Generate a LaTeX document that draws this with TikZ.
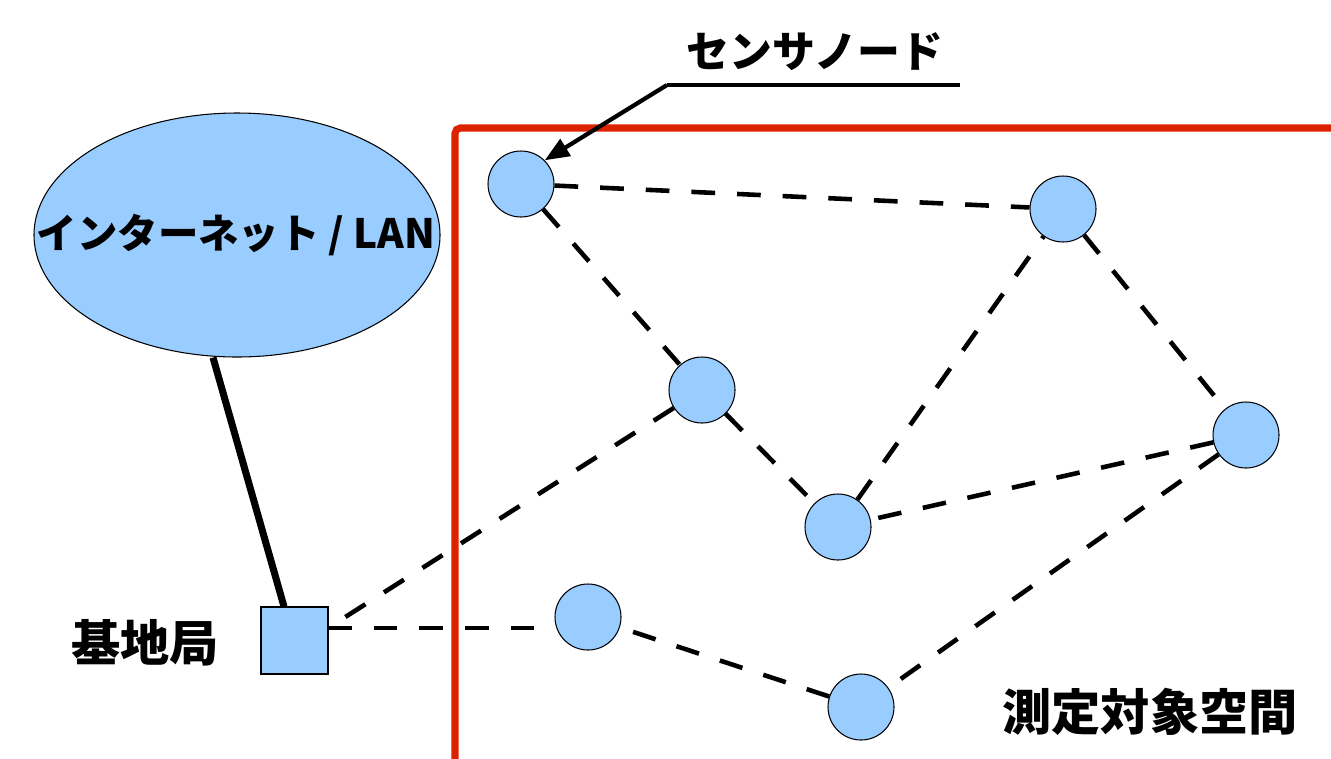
\documentclass[tikz,border=0pt]{standalone}
\usepackage{fontspec}
\setmainfont{Noto Sans CJK JP}
\usetikzlibrary{arrows.meta,shapes.geometric}
\definecolor{nodeblue}{HTML}{99CCFF}
\definecolor{framered}{HTML}{DD2200}
\tikzset{
  sensor/.style={circle,draw=black,line width=0.6pt,fill=nodeblue,minimum size=66*0.02cm,inner sep=0pt},
  link/.style={line width=2.6pt,dash pattern=on 13.5pt off 12.5pt},
  lbl/.style={font=\bfseries,text=black,inner sep=0pt}
}
\begin{document}
\begin{tikzpicture}[x=0.02cm,y=-0.02cm]
\useasboundingbox (0,0) rectangle (1331,758);
% frame
\draw[framered,line width=4pt,rounded corners=3pt] (455,770) -- (455,128) -- (1345,128);
% internet
\node[ellipse,draw=black,line width=0.6pt,fill=nodeblue,minimum width=406*0.02cm,minimum height=244*0.02cm,inner sep=0pt] (net) at (237,235) {};
\node[lbl,font=\bfseries\fontsize{23pt}{26pt}\selectfont] (netlbl) at (236,235) {インターネット / LAN};
% base station
\node[rectangle,draw=black,line width=0.6pt,fill=nodeblue,minimum size=67*0.02cm,inner sep=0pt] (bs) at (294.5,640.5) {};
\coordinate (bsp) at (328,628);
\node[lbl,font=\bfseries\fontsize{28pt}{32pt}\selectfont] (bslbl) at (145,643) {基地局};
% sensors
\node[sensor] (n1) at (521,184) {};
\node[sensor] (n2) at (1063,209) {};
\node[sensor] (n3) at (702,390) {};
\node[sensor] (n4) at (1246,435) {};
\node[sensor] (n5) at (838,527) {};
\node[sensor] (n6) at (588,617) {};
\node[sensor] (n7) at (861,707) {};
% uplink
\draw[line width=4pt] (net.south) ++(-24,0) coordinate (up) -- (bs.north -| 284,0);
% dashed links
\draw[link] (n1) -- (n2);
\draw[link] (n1) -- (n3);
\draw[link] (n3) -- (bsp);
\draw[link] (n3) -- (n5);
\draw[link] (n5) -- (n2);
\draw[link] (n2) -- (n4);
\draw[link] (n4) -- (n5);
\draw[link] (n4) -- (n7);
\draw[link] (n7) -- (n6);
\draw[link] (bsp) -- (bsp -| n6.west);
% callout
\node[lbl,font=\bfseries\fontsize{24.4pt}{28pt}\selectfont] (clbl) at (815,52) {センサノード};
\coordinate (cl) at (667,85);
\coordinate (cr) at (960,85);
\draw[line width=2.4pt] (cr) -- (cl);
\draw[line width=2.4pt,-{Triangle[length=14pt,width=11pt]}] (cl) -- (n1.north east);
% region label
\node[lbl,font=\bfseries\fontsize{28pt}{32pt}\selectfont] (rlbl) at (1150,712) {測定対象空間};
\end{tikzpicture}
\end{document}
